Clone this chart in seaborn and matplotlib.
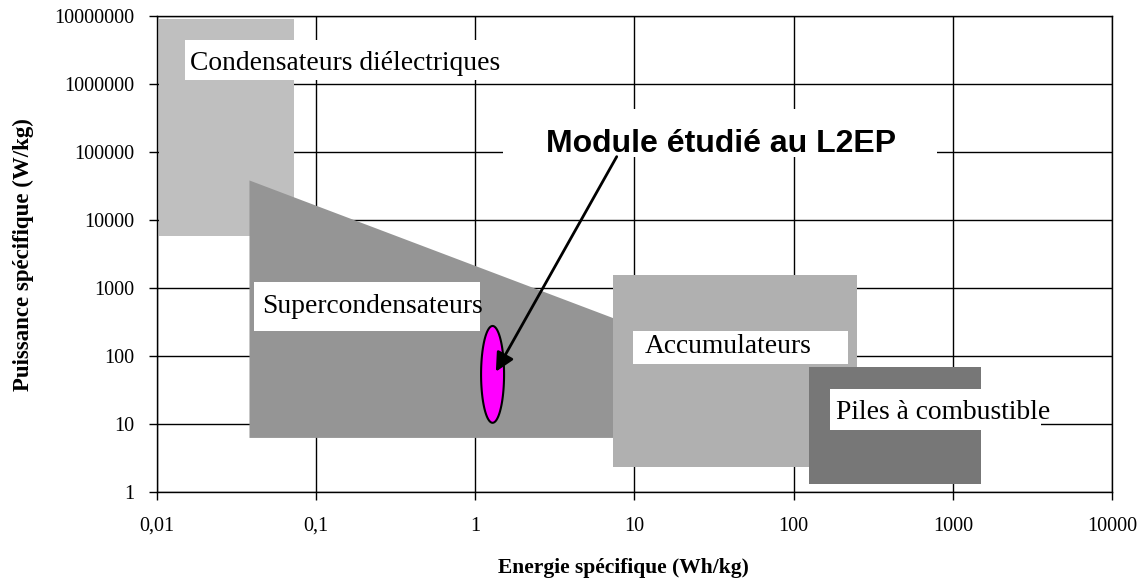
"""
Diagramme de Ragone : puissance spécifique vs énergie spécifique
"""
import numpy as np
import matplotlib
matplotlib.use("Agg")
import matplotlib.pyplot as plt
import seaborn as sns

# Domaines (énergie en Wh/kg, puissance en W/kg)
cond_energy = [0.0104, 0.073]
cond_power = [5850, 9.0e6]

supercap_energy = [0.038, 7.4]
supercap_power_top = [38900, 365]
supercap_power_low = 6.4

accu_energy = [7.38, 250]
accu_power = [2.38, 1550]

pac_energy = [124.5, 1507]
pac_power = [1.34, 68.7]

# Module étudié (ellipse)
module_energy = [1.09, 1.52]
module_power = [10.5, 278]

x_ticks = [0.01, 0.1, 1, 10, 100, 1000, 10000]
x_ticklabels = ["0,01", "0,1", "1", "10", "100", "1000", "10000"]
y_ticks = [1, 10, 100, 1000, 10000, 100000, 1000000, 10000000]
y_ticklabels = ["1", "10", "100", "1000", "10000", "100000", "1000000", "10000000"]

SERIF = ["Liberation Serif", "DejaVu Serif"]
SANS = ["Liberation Sans", "DejaVu Sans"]

sns.set_theme(style="white")
plt.rcParams["font.family"] = SERIF
plt.rcParams["axes.edgecolor"] = "black"
plt.rcParams["axes.linewidth"] = 1.0
plt.rcParams["text.color"] = "black"
plt.rcParams["axes.labelcolor"] = "black"


def fill_box(ax, xr, yr, color, z):
    """Rectangle en coordonnées de données (axes log)"""
    ax.fill([xr[0], xr[1], xr[1], xr[0]], [yr[0], yr[0], yr[1], yr[1]],
            color=color, lw=0, zorder=z)


fig = plt.figure(figsize=(11.41, 5.85), dpi=100)
ax = fig.add_axes([0.1373, 0.1585, 0.8373, 0.8142])
ax.set_xscale("log")
ax.set_yscale("log")
ax.set_xlim(x_ticks[0], x_ticks[-1])
ax.set_ylim(y_ticks[0], y_ticks[-1])

# zones
fill_box(ax, cond_energy, cond_power, "#BFBFBF", 1)
ax.fill_between(supercap_energy, supercap_power_low, supercap_power_top,
                color="#959595", lw=0, zorder=2)
fill_box(ax, accu_energy, accu_power, "#B0B0B0", 3)
fill_box(ax, pac_energy, pac_power, "#777777", 4)

# ellipse du module (tracée dans l'espace log)
lx = np.log10(module_energy)
ly = np.log10(module_power)
t = np.linspace(0, 2 * np.pi, 200)
ex = 10 ** (lx.mean() + (lx[1] - lx[0]) / 2 * np.cos(t))
ey = 10 ** (ly.mean() + (ly[1] - ly[0]) / 2 * np.sin(t))
ax.fill(ex, ey, facecolor="#FF00FF", edgecolor="black", lw=1.5, zorder=6)

# étiquettes avec fond blanc
labels = [
    ("Condensateurs diélectriques", 0.0162, 1.61e6, (0.01507, 1.54), (1.148e6, 4.44e6)),
    ("Supercondensateurs", 0.0458, 432, (0.0408, 1.074), (235, 1233)),
    ("Accumulateurs", 11.67, 110, (9.82, 220), (76.9, 235)),
    ("Piles à combustible", 185, 11.8, (169.5, 3589), (8.24, 33)),
]
for txt, tx, ty, bx, by in labels:
    fill_box(ax, bx, by, "white", 5)
    ax.text(tx, ty, txt, fontsize=19.8, family=SERIF, ha="left", va="baseline",
            color="black", zorder=7)

fill_box(ax, (1.496, 796), (84700, 4.30e5), "white", 5)
ax.text(35.1, 1.014e5, "Module étudié au L2EP", fontsize=23, family=SANS,
        fontweight="bold", color="black", ha="center", va="baseline", zorder=7)
ax.annotate("", xy=(1.35, 59.2), xytext=(7.75, 85600),
            arrowprops=dict(arrowstyle="-|>", color="black", lw=2,
                            mutation_scale=28, shrinkA=0, shrinkB=0),
            zorder=8)

# axes
ax.set_xticks(x_ticks, x_ticklabels)
ax.set_yticks(y_ticks, y_ticklabels)
ax.minorticks_off()
ax.set_axisbelow(True)
ax.grid(True, which="major", color="black", lw=1)
for sp in ax.spines.values():
    sp.set_visible(True)
    sp.set_color("black")
    sp.set_linewidth(1)
    sp.set_zorder(10)
ax.tick_params(axis="both", direction="out", length=5.8, width=1,
               colors="black", labelsize=14.5)
ax.tick_params(axis="x", pad=12)
ax.tick_params(axis="y", pad=10)
ax.tick_params(axis="both", bottom=True, left=True)

ax.set_xlabel("Energie spécifique (Wh/kg)", fontsize=15.5, fontweight="bold",
              color="black")
ax.set_ylabel("Puissance spécifique (W/kg)", fontsize=16.5, fontweight="bold",
              color="black")
ax.xaxis.set_label_coords(0.489, -0.159)
ax.xaxis.label.set_va("center")
ax.yaxis.set_label_coords(-0.139, 0.5)
ax.yaxis.label.set_va("center")

fig.savefig("out.png", dpi=100)
plt.close(fig)
